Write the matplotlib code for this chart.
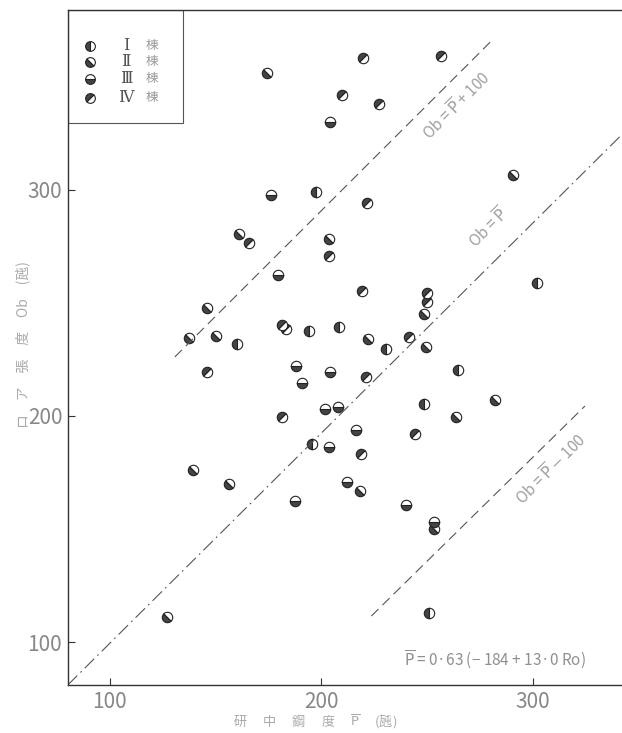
import matplotlib
matplotlib.use("Agg")
import matplotlib.pyplot as plt
from matplotlib.markers import MarkerStyle
from matplotlib.transforms import Affine2D
from matplotlib.patches import Rectangle

plt.rcParams['font.family'] = ['Noto Sans CJK JP', 'DejaVu Sans']

# data: P-bar (x) vs Ob (y), by building group
grp1_x = [301.7, 194.2, 208.3, 230.4, 264.7, 248.5, 195.4, 251.0, 160.2, 197.3]
grp1_y = [258.7, 237.6, 239.5, 229.6, 220.4, 205.3, 187.6, 113.0, 231.9, 299.0]
grp2_x = [174.4, 161.1, 146.0, 150.1, 137.4, 203.7, 222.1, 249.4, 282.0, 263.6,
          139.4, 156.4, 218.2, 253.2, 127.1, 248.6, 290.7]
grp2_y = [351.6, 280.4, 247.9, 235.5, 234.6, 278.3, 234.1, 230.4, 207.1, 199.4,
          176.1, 169.8, 166.8, 149.9, 111.2, 245.1, 306.6]
grp3_x = [204.0, 176.3, 179.3, 187.8, 190.6, 204.0, 216.2, 203.7, 187.5, 240.0,
          253.2, 201.7, 207.9, 211.9]
grp3_y = [330.2, 297.8, 262.3, 222.3, 214.5, 219.6, 193.8, 186.4, 162.4, 160.5,
          153.2, 203.0, 203.8, 170.7]
grp4_x = [219.5, 256.4, 209.6, 227.0, 221.4, 165.9, 203.7, 219.1, 241.2, 145.7,
          181.5, 218.5, 221.0, 244.1, 181.2, 183.1, 249.7, 249.7]
grp4_y = [358.3, 359.0, 342.0, 338.1, 294.1, 276.7, 270.8, 255.3, 235.1, 219.6,
          199.7, 183.1, 217.1, 191.9, 240.3, 238.4, 250.3, 254.3]

# guide lines as drawn on the scan (end points)
upper_x = [130.7, 280.5]
upper_y = [226.1, 366.0]
middle_x = [80.1, 342.1]
middle_y = [81.0, 324.5]
lower_x = [223.6, 324.6]
lower_y = [111.5, 204.4]

xticks = [100, 200, 300]
yticks = [100, 200, 300]
numerals = ['Ⅰ', 'Ⅱ', 'Ⅲ', 'Ⅳ']

def half_marker(fill, angle):
    return MarkerStyle('o', fillstyle=fill, transform=Affine2D().rotate_deg(angle))

markers = [half_marker('left', 0), half_marker('left', 45),
           half_marker('bottom', 0), half_marker('left', -45)]
groups = [(grp1_x, grp1_y), (grp2_x, grp2_y), (grp3_x, grp3_y), (grp4_x, grp4_y)]

ink = '#222222'

fig = plt.figure(figsize=(6.22, 7.33), dpi=100)
ax = fig.add_axes([0.109, 0.0655, 0.891, 0.921])
ax.set_xlim(80.1, 342.1)
ax.set_ylim(81.0, 379.6)

for (gx, gy), m in zip(groups, markers):
    ax.plot(gx, gy, linestyle='none', marker=m, markersize=7.5,
            markerfacecolor='#444444', markerfacecoloralt='white',
            markeredgecolor=ink, markeredgewidth=0.8)

ax.plot(upper_x, upper_y, color='#555555', lw=0.8, dashes=(9, 5))
ax.plot(middle_x, middle_y, color='#555555', lw=0.8, dashes=(12, 4, 1.5, 4))
ax.plot(lower_x, lower_y, color='#555555', lw=0.8, dashes=(9, 5))

ax.text(264, 337, r'Ob = $\overline{\mathrm{P}}$ + 100', rotation=45, color='#a0a0a0',
        fontsize=11, ha='center', va='center')
ax.text(279, 283, r'Ob = $\overline{\mathrm{P}}$', rotation=45, color='#a0a0a0',
        fontsize=11, ha='center', va='center')
ax.text(309, 176, r'Ob = $\overline{\mathrm{P}}$ $-$ 100', rotation=45, color='#a0a0a0',
        fontsize=11, ha='center', va='center')
ax.text(325, 92, r'$\overline{\mathrm{P}}$ = 0·63 (− 184 + 13·0 Ro)', color='#909090',
        fontsize=11, ha='right', va='center')

# legend box in the upper-left corner
ax.add_patch(Rectangle((0, 0.8326), 0.2076, 0.1674, transform=ax.transAxes,
                       fill=False, edgecolor='#555555', lw=0.8))
leg_y = [0.947, 0.923, 0.898, 0.870]
for m, num, yy in zip(markers, numerals, leg_y):
    ax.plot([0.04], [yy], transform=ax.transAxes, linestyle='none', marker=m,
            markersize=7, markerfacecolor='#444444', markerfacecoloralt='white',
            markeredgecolor=ink, markeredgewidth=0.8)
    ax.text(0.105, yy, num, transform=ax.transAxes, fontsize=11.5, color='#555555',
            ha='center', va='center', family=['DejaVu Serif'])
    ax.text(0.14, yy, '棟', transform=ax.transAxes, fontsize=9, color='#999999',
            ha='left', va='center')

ax.spines['right'].set_visible(False)
for s in ['left', 'bottom', 'top']:
    ax.spines[s].set_color('#333333')
    ax.spines[s].set_linewidth(1.0)

ax.set_xticks(xticks)
ax.set_yticks(yticks)
ax.tick_params(direction='in', length=5, width=0.8, colors='#333333',
               labelcolor='#888888', labelsize=15, pad=4)

fig.text(0.036, 0.53, 'ロ\u3000ア\u3000張\u3000度\u3000Ob\u3000(瓲)', rotation=90,
         color='#aaaaaa', fontsize=10, ha='center', va='center')
fig.text(0.507, 0.015, '研\u3000 中\u3000 鋼\u3000 度\u3000 $\\overline{\\mathrm{P}}$\u3000 (瓲)',
         color='#aaaaaa', fontsize=9.5, ha='center', va='center')

fig.savefig('out.png', dpi=100)
plt.close(fig)
